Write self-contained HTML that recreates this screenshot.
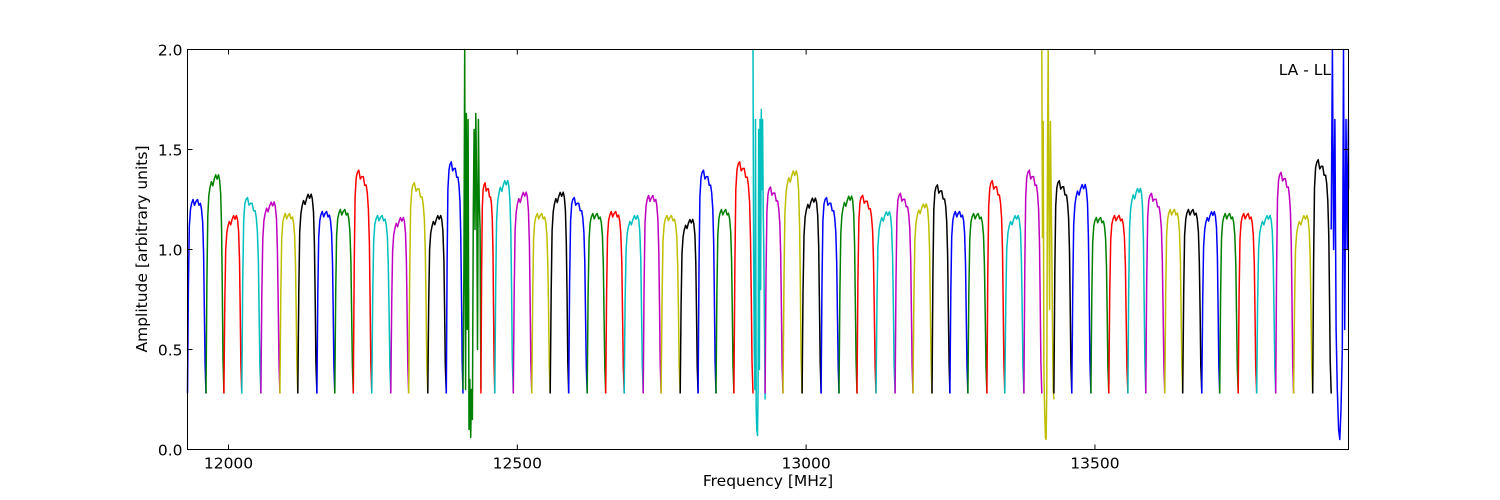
<!DOCTYPE html>
<html><head><meta charset="utf-8">
<style>
html,body{margin:0;padding:0;background:#fff;}
svg{display:block;font-family:"DejaVu Sans","Liberation Sans",sans-serif;}
</style></head>
<body>
<svg id="chart" width="1500" height="500" viewBox="0 0 1500 500" xmlns="http://www.w3.org/2000/svg">
  <rect x="0" y="0" width="1500" height="500" fill="#fff"/>
  <g id="series"></g>
  <rect x="187.5" y="49.5" width="1161" height="400" fill="none" stroke="#000" stroke-width="1"/>
  <g id="axes"></g>
  <text x="768" y="486" font-size="15.5" text-anchor="middle">Frequency [MHz]</text>
  <text x="147" y="249" font-size="15.5" text-anchor="middle" transform="rotate(-90 147 249)">Amplitude [arbitrary units]</text>
  <text x="1331" y="75" font-size="15.5" text-anchor="end">LA - LL</text>
</svg>
<script>
const xTicks = [12000, 12500, 13000, 13500];
const yTicks = [0.0, 0.5, 1.0, 1.5, 2.0];
const yTickLabels = ["0.0", "0.5", "1.0", "1.5", "2.0"];
const palette = ["#0000ff", "#008000", "#ff0000", "#00bfbf", "#bf00bf", "#bfbf00", "#000000"];
const segEdgesMHz = [11929,11961,11992,12023,12056,12089,12120,12153,12184,12216,12248,12281,12312,12345,12377,12406,12437,12461,12493,12525,12557,12589,12621,12653,12685,12718,12749,12782,12813,12844,12875,12908,12929,12960,12993,13026,13057,13088,13121,13154,13185,13218,13249,13280,13313,13344,13377,13408,13429,13460,13493,13524,13557,13588,13621,13652,13685,13716,13748,13780,13813,13844,13877,13909,13941];
const segLevels = [1.25,1.41,1.2,1.2,1.27,1.18,1.31,1.19,1.2,1.33,1.17,1.19,1.27,1.2,1.37,1.6,1.27,1.38,1.32,1.18,1.32,1.2,1.18,1.19,1.2,1.27,1.17,1.18,1.33,1.2,1.37,1.6,1.25,1.43,1.29,1.2,1.3,1.21,1.22,1.22,1.26,1.26,1.19,1.18,1.28,1.2,1.33,1.6,1.28,1.36,1.16,1.17,1.34,1.22,1.2,1.2,1.22,1.18,1.18,1.2,1.32,1.2,1.38,1.6];
const segTilt = [0,1,1,-1,1,0,1,0,0,-1,0,1,-1,1,-1,0,-1,1,1,0,1,-1,0,0,1,0,0,1,-1,0,-1,0,-1,1,1,-1,1,-1,1,-1,1,-1,0,0,-1,1,-1,0,-1,1,0,0,1,-1,0,0,1,0,0,1,-1,1,-1,0];
const profFrac = [0,0.05,0.1,0.16,0.22,0.3,0.38,0.46,0.54,0.62,0.7,0.76,0.82,0.87,0.91,0.95,1.0];
const profVal  = [0,0.55,0.86,0.95,0.98,1.0,0.97,0.99,1.0,0.97,0.98,0.95,0.88,0.72,0.45,0.15,0];
const rfiSeg15 = [0.3,0.9,2.0,0.3,1.68,0.6,1.65,0.1,0.35,0.06,0.3,0.15,1.2,1.6,1.1,1.68,1.3,0.5,1.65,1.25,1.1,0.3];
const rfiSeg31 = [2.0,1.0,0.5,0.3,1.65,0.2,0.1,0.07,0.3,1.6,0.4,1.65,0.8,1.7,1.3,1.65,1.2,1.0,0.6,0.25];
const rfiSeg47 = [2.0,1.06,1.64,0.4,0.2,0.06,0.05,0.3,1.5,2.0,1.2,0.7,1.64,1.3,1.0,0.6,0.3,0.25];
const rfiSeg63 = [1.1,2.0,1.0,1.65,0.6,0.3,0.1,0.05,0.2,0.5,2.0,0.6,1.65,1.0,1.65,1.3];
const rfiSegments = {15: rfiSeg15, 31: rfiSeg31, 47: rfiSeg47, 63: rfiSeg63};
const dipLevel = 0.28;

const X0 = 187.5, X1 = 1348.5, Y0 = 449.5, Y1 = 49.5;
const xMin = 11929, xMax = 13939, yMin = 0, yMax = 2;
function xs(f){ return X0 + (f - xMin) / (xMax - xMin) * (X1 - X0); }
function ys(v){ return Y0 - (v - yMin) / (yMax - yMin) * (Y0 - Y1); }
const NS = "http://www.w3.org/2000/svg";
const series = document.getElementById("series");
const axes = document.getElementById("axes");

for (let i = 0; i < segLevels.length; i++) {
  const f0 = segEdgesMHz[i], w = segEdgesMHz[i + 1] - segEdgesMHz[i];
  let pts = [];
  if (rfiSegments[i]) {
    const arr = rfiSegments[i];
    for (let k = 0; k < arr.length; k++) {
      const f = f0 + w * k / (arr.length - 1);
      pts.push([xs(Math.min(f, xMax)), ys(Math.min(arr[k], 2))]);
    }
  } else {
    const lvl = segLevels[i], t = segTilt[i];
    for (let k = 0; k < profFrac.length; k++) {
      const f = f0 + w * profFrac[k];
      const top = lvl * (1 + t * (profFrac[k] - 0.8) * 0.1);
      const v = dipLevel + (top - dipLevel) * profVal[k];
      pts.push([xs(Math.min(f, xMax)), ys(v)]);
    }
  }
  const p = document.createElementNS(NS, "polyline");
  p.setAttribute("points", pts.map(q => q[0].toFixed(1) + "," + q[1].toFixed(1)).join(" "));
  p.setAttribute("fill", "none");
  p.setAttribute("stroke", palette[i % 7]);
  p.setAttribute("stroke-width", "1.5");
  p.setAttribute("stroke-linejoin", "round");
  
  
  series.appendChild(p);
}

xTicks.forEach(function(t){
  const x = xs(t);
  const l1 = document.createElementNS(NS, "line");
  l1.setAttribute("x1", x); l1.setAttribute("x2", x);
  l1.setAttribute("y1", Y0); l1.setAttribute("y2", Y0 - 5);
  l1.setAttribute("stroke", "#000");
  
  
  axes.appendChild(l1);
  const l2 = document.createElementNS(NS, "line");
  l2.setAttribute("x1", x); l2.setAttribute("x2", x);
  l2.setAttribute("y1", Y1); l2.setAttribute("y2", Y1 + 5);
  l2.setAttribute("stroke", "#000");
  
  
  axes.appendChild(l2);
  const tx = document.createElementNS(NS, "text");
  tx.setAttribute("x", x); tx.setAttribute("y", Y0 + 19);
  tx.setAttribute("font-size", "15.5"); tx.setAttribute("text-anchor", "middle");
  tx.textContent = String(t);
  
  
  axes.appendChild(tx);
});
yTicks.forEach(function(t, i){
  const y = ys(t);
  const l1 = document.createElementNS(NS, "line");
  l1.setAttribute("x1", X0); l1.setAttribute("x2", X0 + 5);
  l1.setAttribute("y1", y); l1.setAttribute("y2", y);
  l1.setAttribute("stroke", "#000");
  
  
  axes.appendChild(l1);
  const l2 = document.createElementNS(NS, "line");
  l2.setAttribute("x1", X1 - 5); l2.setAttribute("x2", X1);
  l2.setAttribute("y1", y); l2.setAttribute("y2", y);
  l2.setAttribute("stroke", "#000");
  
  
  axes.appendChild(l2);
  const tx = document.createElementNS(NS, "text");
  tx.setAttribute("x", X0 - 5); tx.setAttribute("y", y + 6);
  tx.setAttribute("font-size", "15.5"); tx.setAttribute("text-anchor", "end");
  tx.textContent = yTickLabels[i];
  
  
  axes.appendChild(tx);
});
</script>
</body></html>
